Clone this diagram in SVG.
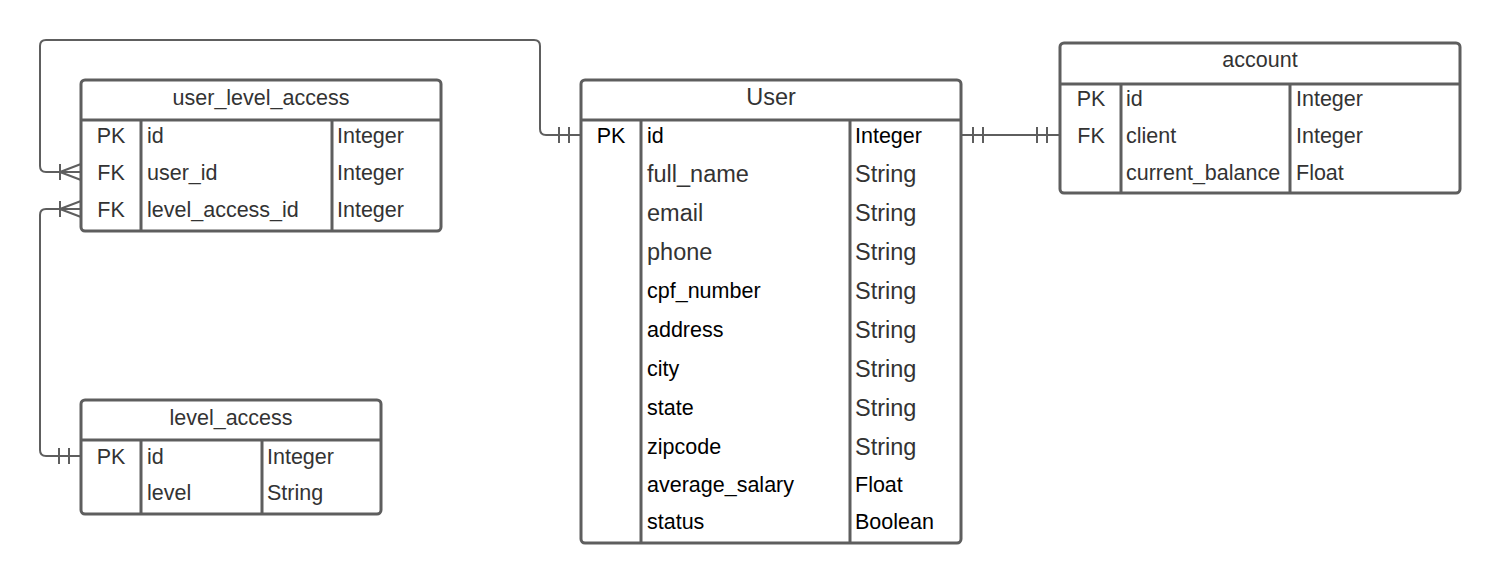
<svg xmlns="http://www.w3.org/2000/svg" width="1500" height="583" viewBox="0 0 1500 583">
<style>
.box{fill:#fff;stroke:#5e5e5e;stroke-width:3}
.ln{stroke:#5e5e5e;stroke-width:3;fill:none}
.cn{stroke:#5e5e5e;stroke-width:2;fill:none}
text{font-family:"Liberation Sans",Arial,sans-serif;font-size:21.5px;fill:#333}
.c{text-anchor:middle}
.k{fill:#000}
.b{font-size:23.5px}
</style>
<rect width="1500" height="583" fill="#fff"/>
<g id="connectors">
<path class="cn" d="M581,135 H546 Q540,135 540,129 V46 Q540,40 534,40 H46 Q40,40 40,46 V166 Q40,172 46,172 H81"/>
<path class="cn" d="M559,127 V143 M569,127 V143"/>
<path class="cn" d="M60,164 V180 M60,172 L81,164 M60,172 L81,180"/>
<path class="cn" d="M81,456 H46 Q40,456 40,450 V215 Q40,209 46,209 H81"/>
<path class="cn" d="M59,448 V464 M69,448 V464"/>
<path class="cn" d="M60,201 V217 M60,209 L81,201 M60,209 L81,217"/>
<path class="cn" d="M961,135 H1060"/>
<path class="cn" d="M973,127 V143 M983,127 V143 M1037,127 V143 M1047,127 V143"/>
</g>
<g id="user_level_access">
<rect class="box" x="81" y="80" width="360" height="151" rx="4"/>
<path class="ln" d="M81,120 H441 M141,120 V231 M332,120 V231"/>
<text class="c" x="261" y="105">user_level_access</text>
<text class="c" x="111" y="143">PK</text><text x="147" y="143">id</text><text x="337" y="143">Integer</text>
<text class="c" x="111" y="180">FK</text><text x="147" y="180">user_id</text><text x="337" y="180">Integer</text>
<text class="c" x="111" y="217">FK</text><text x="147" y="217">level_access_id</text><text x="337" y="217">Integer</text>
</g>
<g id="level_access">
<rect class="box" x="81" y="400" width="300" height="114" rx="4"/>
<path class="ln" d="M81,440 H381 M141,440 V514 M262,440 V514"/>
<text class="c" x="231" y="425">level_access</text>
<text class="c" x="111" y="464">PK</text><text x="147" y="464">id</text><text x="267" y="464">Integer</text>
<text x="147" y="500">level</text><text x="267" y="500">String</text>
</g>
<g id="User">
<rect class="box" x="581" y="80" width="380" height="463" rx="4"/>
<path class="ln" d="M581,120 H961 M641,120 V543 M850,120 V543"/>
<text class="c b" x="771" y="105">User</text>
<text class="c k" x="611" y="143">PK</text><text class="k" x="647" y="143">id</text><text class="k" x="855" y="143">Integer</text>
<text class="b" x="647" y="182">full_name</text><text class="b" x="855" y="182">String</text>
<text class="b" x="647" y="221">email</text><text class="b" x="855" y="221">String</text>
<text class="b" x="647" y="260">phone</text><text class="b" x="855" y="260">String</text>
<text class="k" x="647" y="298">cpf_number</text><text class="b" x="855" y="299">String</text>
<text class="k" x="647" y="337">address</text><text class="b" x="855" y="338">String</text>
<text class="k" x="647" y="376">city</text><text class="b" x="855" y="377">String</text>
<text class="k" x="647" y="415">state</text><text class="b" x="855" y="416">String</text>
<text class="k" x="647" y="454">zipcode</text><text class="b" x="855" y="455">String</text>
<text class="k" x="647" y="492">average_salary</text><text class="k" x="855" y="492">Float</text>
<text class="k" x="647" y="529">status</text><text class="k" x="855" y="529">Boolean</text>
</g>
<g id="account">
<rect class="box" x="1060" y="43" width="400" height="150" rx="4"/>
<path class="ln" d="M1060,84 H1460 M1121,84 V193 M1290,84 V193"/>
<text class="c" x="1260" y="67">account</text>
<text class="c" x="1091" y="106">PK</text><text x="1126" y="106">id</text><text x="1296" y="106">Integer</text>
<text class="c" x="1091" y="143">FK</text><text x="1126" y="143">client</text><text x="1296" y="143">Integer</text>
<text x="1126" y="180">current_balance</text><text x="1296" y="180">Float</text>
</g>
</svg>
